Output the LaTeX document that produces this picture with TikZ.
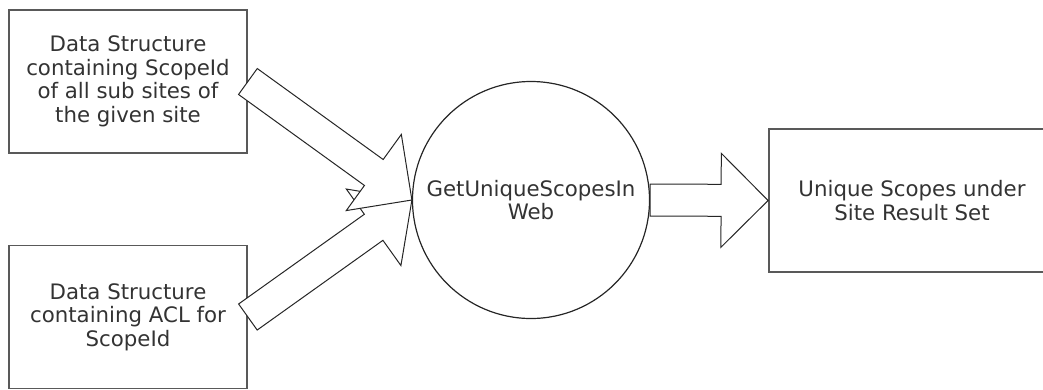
\documentclass[tikz,border=0pt]{standalone}
\usepackage{fontspec}
\setmainfont{DejaVu Sans}
\usetikzlibrary{calc}
\tikzset{
    databox/.style={draw=black!65, line width=1.8bp, text=black!80, align=center,
        minimum width=238bp, minimum height=143bp, inner sep=0pt,
        font=\fontsize{21.3bp}{23.5bp}\selectfont},
    process/.style={circle, draw=black!85, line width=1.2bp, text=black!80, align=center,
        minimum size=237bp, inner sep=0pt, font=\fontsize{21.3bp}{23.5bp}\selectfont},
    blockarrow/.style={draw=black!85, line width=1bp, fill=white, line join=miter},
}
\newcommand*\shaftw{16bp}
\newcommand*\headw{47bp}
\newcommand*\headl{47bp}
% hollow block arrow from #1 to #2
\newcommand*\blockarrow[2]{
    \draw[blockarrow] ($(#1)!\shaftw!90:(#2)$)
        -- ($($(#2)!\headl!(#1)$)!\shaftw!90:(#2)$)
        -- ($($(#2)!\headl!(#1)$)!\headw!90:(#2)$)
        -- (#2)
        -- ($($(#2)!\headl!(#1)$)!\headw!-90:(#2)$)
        -- ($($(#2)!\headl!(#1)$)!\shaftw!-90:(#2)$)
        -- ($(#1)!\shaftw!-90:(#2)$) -- cycle;}
\begin{document}
\begin{tikzpicture}[x=1bp, y=-1bp]
    \useasboundingbox (0,0) rectangle (1043,389);
    \clip (0,0) rectangle (1043,389);
    \node[databox] (subsites) at (128,81.5) {Data Structure\\containing ScopeId\\of all sub sites of\\the given site};
    \node[databox] (acl) at (128,317) {Data Structure\\containing ACL for\\ScopeId};
    \node[process] (getscopes) at (531,200) {GetUniqueScopesIn\\Web};
    \node[databox, minimum width=286bp] (result) at (912,200.5) {Unique Scopes under\\Site Result Set};
    \blockarrow{acl.east}{getscopes.west}
    \blockarrow{subsites.east}{getscopes.west}
    \blockarrow{getscopes.east}{result.west}
\end{tikzpicture}
\end{document}
